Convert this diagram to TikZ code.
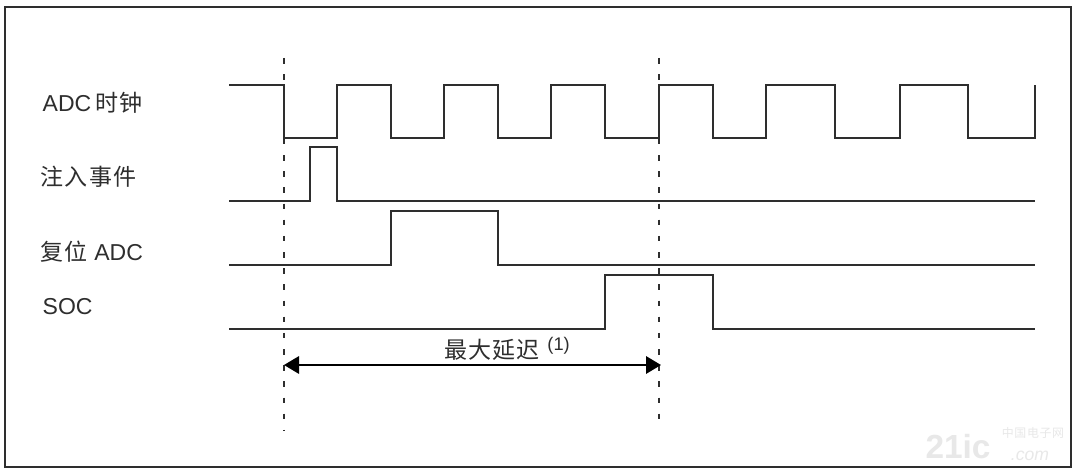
\documentclass[tikz,border=0pt]{standalone}
\usepackage{fontspec}
\usepackage{tikz}
\usepackage{xcolor}
\usetikzlibrary{arrows.meta}
\setmainfont{Liberation Sans}
\newfontfamily\cjk[LetterSpace=5]{Noto Sans CJK SC}
\definecolor{inkgray}{gray}{0.18}
\tikzset{
    wave/.style={draw=inkgray, line width=0.48pt, line join=miter},
    guide/.style={draw=inkgray, line width=0.45pt, dash pattern=on 1.6pt off 3pt},
    span/.style={draw=black, line width=0.45pt, {Triangle[length=1.5mm,width=1.75mm]}-{Triangle[length=1.5mm,width=1.75mm]}},
    signame/.style={anchor=west, inner sep=0pt, text=inkgray, font=\fontsize{6.55pt}{8pt}\selectfont},
    stamp/.style={inner sep=0pt, text=black!9}
}
\begin{document}
\begin{tikzpicture}
\useasboundingbox (0, 0) rectangle (10.78, -4.71);
\fill[white] (0, 0) rectangle (10.78, -4.71);
\draw[draw=inkgray, line width=0.55pt] (0.05, -0.07) rectangle (10.71, -4.67);
% watermark
\node[stamp, font=\fontsize{9.5pt}{10pt}\bfseries\selectfont] (wma) at (9.58, -4.47) {21ic};
\node[stamp, font=\cjk\fontsize{3.4pt}{4pt}\selectfont] (wmb) at (10.33, -4.33) {中国电子网};
\node[stamp, font=\fontsize{5pt}{5pt}\itshape\selectfont] (wmc) at (10.3, -4.56) {.com};
% signal names
\node[signame] (clk) at (0.42, -1.03) {ADC\,{\cjk 时钟}};
\node[signame] (inj) at (0.40, -1.77) {\cjk 注入事件};
\node[signame] (rst) at (0.40, -2.52) {{\cjk 复位} ADC};
\node[signame] (soc) at (0.42, -3.07) {SOC};
% waveforms
\draw[wave] (2.29, -0.85) -| (2.84, -1.38) -| (3.37, -0.85) -| (3.91, -1.38) -| (4.44, -0.85) -| (4.98, -1.38) -| (5.51, -0.85) -| (6.05, -1.38) -| (6.59, -0.85) -| (7.13, -1.38) -| (7.66, -0.85) -| (8.35, -1.38) -| (9.00, -0.85) -| (9.68, -1.38) -| (10.35, -0.85);
\draw[wave] (2.29, -2.01) -| (3.10, -1.47) -| (3.37, -2.01) -- (10.35, -2.01);
\draw[wave] (2.29, -2.65) -| (3.91, -2.11) -| (4.98, -2.65) -- (10.35, -2.65);
\draw[wave] (2.29, -3.29) -| (6.05, -2.75) -| (7.13, -3.29) -- (10.35, -3.29);
% delay marker
\coordinate (lt) at (2.84, -0.58);
\coordinate (lb) at (2.84, -4.30);
\coordinate (rt) at (6.59, -0.58);
\coordinate (rb) at (6.59, -4.25);
\coordinate (al) at (2.84, -3.65);
\coordinate (ar) at (6.61, -3.65);
\draw[guide] (lt) -- (lb);
\draw[guide] (rt) -- (rb);
\draw[span] (al) -- (ar);
\node[inner sep=0pt, text=inkgray, font=\fontsize{6.55pt}{8pt}\selectfont] (delay) at (5.07, -3.49) {{\cjk 最大延迟}\,\,\raisebox{0.7ex}{\fontsize{5.2pt}{6pt}\selectfont (1)}};
\end{tikzpicture}
\end{document}
